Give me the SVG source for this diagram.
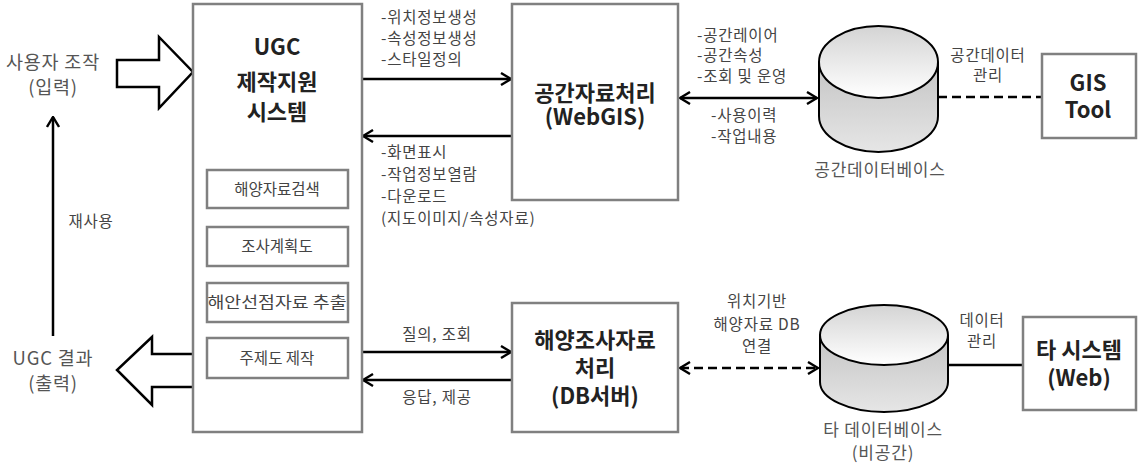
<svg xmlns="http://www.w3.org/2000/svg" width="1143" height="466" viewBox="0 0 1143 466">
<style>
text{font-family:"Noto Sans CJK KR","Noto Sans",sans-serif;fill:#444}
.lbl{font-size:15.5px;letter-spacing:0.8px}
.side{font-size:18.5px;letter-spacing:0.8px;fill:#555}
.big{font-size:22px;font-weight:bold;fill:#222}
.sub{font-size:15.5px}
.db{font-size:17px;letter-spacing:0.8px;fill:#555}
.box{fill:#fff;stroke:#808080;stroke-width:2.5}
.conn{stroke:#000;stroke-width:2.5;fill:none}
.cyl{stroke:#000;stroke-width:2}
</style>
<defs>
<marker id="ah" viewBox="0 0 12 14" refX="11" refY="7" markerWidth="12" markerHeight="14" markerUnits="userSpaceOnUse" orient="auto-start-reverse">
<path d="M1,1 L11,7 L1,13" fill="none" stroke="#000" stroke-width="2.4"/>
</marker>
<linearGradient id="gside" x1="0" y1="0" x2="0" y2="1">
<stop offset="0" stop-color="#c4c4c4"/><stop offset="1" stop-color="#e6e6e6"/>
</linearGradient>
<linearGradient id="gtop" x1="0" y1="0" x2="0" y2="1">
<stop offset="0" stop-color="#d4d4d4"/><stop offset="1" stop-color="#ffffff"/>
</linearGradient>
</defs>

<g id="connectors">
<path d="M117,60 H159 V37 L193,72 L159,108 V87 H117 Z" fill="#fff" stroke="#000" stroke-width="2.5"/>
<path d="M193,354 H152 V337 L117,370 L152,405 V387 H193" fill="#fff" stroke="#000" stroke-width="2.5"/>
<line x1="53" y1="336" x2="53" y2="117" class="conn" stroke-width="2" marker-end="url(#ah)"/>
<line x1="362" y1="79" x2="511" y2="79" class="conn" marker-end="url(#ah)"/>
<line x1="512" y1="136" x2="363" y2="136" class="conn" marker-end="url(#ah)"/>
<line x1="680" y1="98" x2="817" y2="98" class="conn" stroke-width="3" marker-start="url(#ah)" marker-end="url(#ah)"/>
<line x1="938" y1="97" x2="1042" y2="97" class="conn" stroke-width="3" stroke-dasharray="9,5"/>
<line x1="362" y1="352" x2="511" y2="352" class="conn" marker-end="url(#ah)"/>
<line x1="512" y1="380" x2="363" y2="380" class="conn" marker-end="url(#ah)"/>
<line x1="680" y1="368" x2="818" y2="368" class="conn" stroke-width="3" stroke-dasharray="9,5" marker-start="url(#ah)" marker-end="url(#ah)"/>
<line x1="948" y1="365" x2="1023" y2="365" class="conn"/>
<text class="side" x="53" y="69" text-anchor="middle">사용자 조작</text>
<text class="side" x="53" y="94" text-anchor="middle">(입력)</text>
<text class="lbl" x="91" y="227" text-anchor="middle">재사용</text>
<text class="side" x="53" y="365" text-anchor="middle">UGC 결과</text>
<text class="side" x="53" y="390" text-anchor="middle">(출력)</text>
<text class="lbl" x="381" y="23">-위치정보생성</text>
<text class="lbl" x="381" y="44">-속성정보생성</text>
<text class="lbl" x="381" y="65">-스타일정의</text>
<text class="lbl" x="381" y="158">-화면표시</text>
<text class="lbl" x="381" y="180">-작업정보열람</text>
<text class="lbl" x="381" y="202">-다운로드</text>
<text class="lbl" x="381" y="224">(지도이미지/속성자료)</text>
<text class="lbl" x="697" y="41">-공간레이어</text>
<text class="lbl" x="697" y="61">-공간속성</text>
<text class="lbl" x="697" y="82">-조회 및 운영</text>
<text class="lbl" x="711" y="121">-사용이력</text>
<text class="lbl" x="711" y="142">-작업내용</text>
<text class="lbl" x="988" y="61" text-anchor="middle">공간데이터</text>
<text class="lbl" x="988" y="81" text-anchor="middle">관리</text>
<text class="lbl" x="437" y="340" text-anchor="middle">질의, 조회</text>
<text class="lbl" x="437" y="403" text-anchor="middle">응답, 제공</text>
<text class="lbl" x="757" y="307" text-anchor="middle">위치기반</text>
<text class="lbl" x="757" y="330" text-anchor="middle">해양자료 DB</text>
<text class="lbl" x="757" y="352" text-anchor="middle">연결</text>
<text class="lbl" x="982" y="326" text-anchor="middle">데이터</text>
<text class="lbl" x="982" y="347" text-anchor="middle">관리</text>
</g>

<g id="ugc">
<rect class="box" x="193" y="4" width="169" height="428"/>
<text class="big" x="277" y="55" text-anchor="middle" font-size="27">UGC</text>
<text class="big" x="277" y="90" text-anchor="middle">제작지원</text>
<text class="big" x="277" y="120" text-anchor="middle">시스템</text>
<rect class="box" x="207" y="170" width="141" height="38"/>
<text class="sub" x="277" y="195" text-anchor="middle">해양자료검색</text>
<rect class="box" x="207" y="227" width="141" height="39"/>
<text class="sub" x="277" y="252" text-anchor="middle">조사계획도</text>
<rect class="box" x="207" y="283" width="141" height="39"/>
<text class="sub" x="277" y="308" text-anchor="middle" textLength="139" lengthAdjust="spacingAndGlyphs">해안선점자료 추출</text>
<rect class="box" x="207" y="338" width="141" height="40"/>
<text class="sub" x="277" y="364" text-anchor="middle">주제도 제작</text>
</g>

<g id="webgis">
<rect class="box" x="512" y="4" width="166" height="196"/>
<text class="big" x="595" y="101" text-anchor="middle">공간자료처리</text>
<text class="big" x="595" y="125" text-anchor="middle">(WebGIS)</text>
</g>

<g id="spatialdb">
<path class="cyl" d="M819,62 V116 A59.5,36 0 0 0 938,116 V62" fill="url(#gside)"/>
<ellipse class="cyl" cx="878.5" cy="62" rx="59.5" ry="36" fill="url(#gtop)"/>
<text class="db" x="880" y="176" text-anchor="middle">공간데이터베이스</text>
</g>

<g id="gistool">
<rect class="box" x="1042" y="54" width="94" height="84"/>
<text class="big" x="1088" y="91" text-anchor="middle">GIS</text>
<text class="big" x="1088" y="118" text-anchor="middle">Tool</text>
</g>

<g id="dbserver">
<rect class="box" x="512" y="303" width="166" height="129"/>
<text class="big" x="595" y="348" text-anchor="middle">해양조사자료</text>
<text class="big" x="595" y="376" text-anchor="middle">처리</text>
<text class="big" x="595" y="404" text-anchor="middle">(DB서버)</text>
</g>

<g id="otherdb">
<path class="cyl" d="M820,335 V382 A64,30 0 0 0 948,382 V335" fill="url(#gside)"/>
<ellipse class="cyl" cx="884" cy="335" rx="64" ry="30" fill="url(#gtop)"/>
<text class="db" x="883" y="436" text-anchor="middle">타 데이터베이스</text>
<text class="db" x="883" y="459" text-anchor="middle">(비공간)</text>
</g>

<g id="othersys">
<rect class="box" x="1023" y="317" width="113" height="93"/>
<text class="big" x="1079" y="358" text-anchor="middle">타 시스템</text>
<text class="big" x="1079" y="386" text-anchor="middle">(Web)</text>
</g>
</svg>
